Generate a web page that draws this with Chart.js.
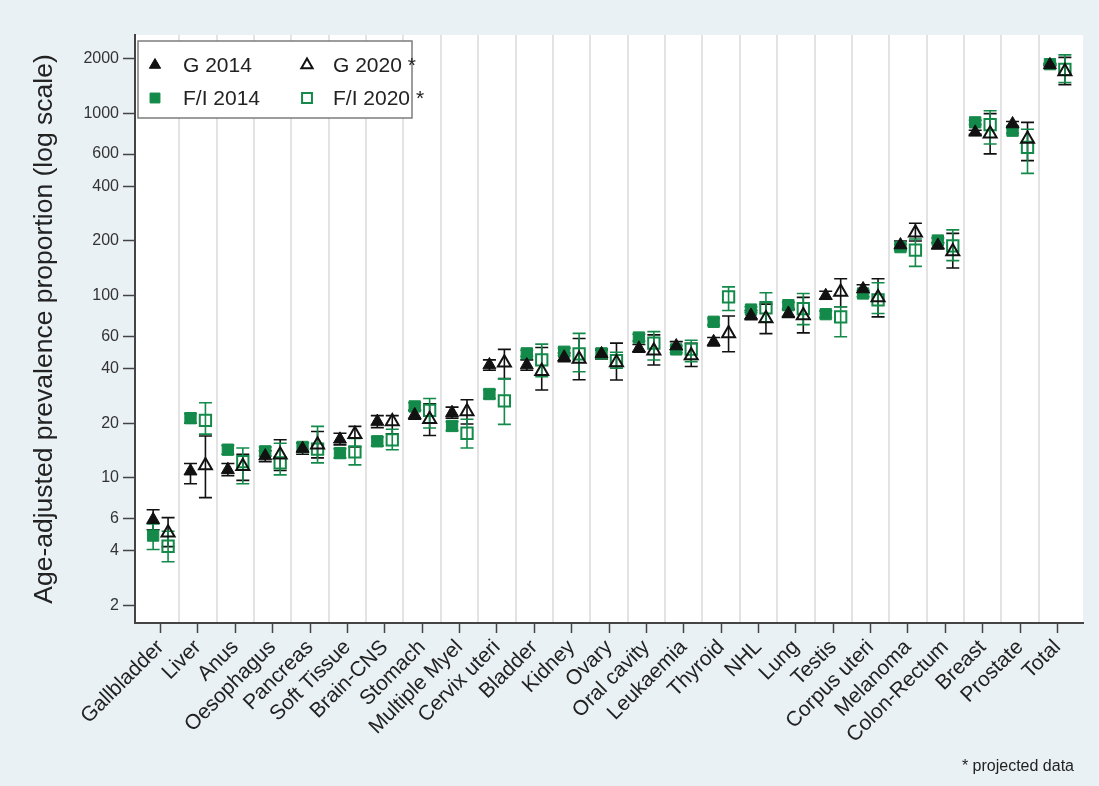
<!DOCTYPE html>
<html>
<head>
<meta charset="utf-8">
<script src="https://cdn.jsdelivr.net/npm/chart.js@4.4.0/dist/chart.umd.min.js"></script>
<style>
  html, body { margin: 0; padding: 0; background: #e9f1f4; }
  canvas { display: block; }
</style>
</head>
<body>
<canvas id="chart" width="1099" height="786"></canvas>
<script>
// Cancer sites, ordered by prevalence
const categories = ['Gallbladder', 'Liver', 'Anus', 'Oesophagus', 'Pancreas', 'Soft Tissue', 'Brain-CNS',
  'Stomach', 'Multiple Myel', 'Cervix uteri', 'Bladder', 'Kidney', 'Ovary', 'Oral cavity', 'Leukaemia',
  'Thyroid', 'NHL', 'Lung', 'Testis', 'Corpus uteri', 'Melanoma', 'Colon-Rectum', 'Breast', 'Prostate', 'Total'];

// Germany 2014 (observed)
const g2014     = [5.9, 10.9, 11.1, 13.2, 14.5, 16.3, 20.4, 22.2, 22.8, 41.7, 41.7, 46, 48, 51.5, 53, 55.9, 78, 80, 100, 109, 190, 189, 789, 877, 1850];
const g2014Low  = [5.2, 9.3, 10.3, 12.3, 13.5, 15.2, 18.9, 21.0, 21.3, 39.0, 39.0, 43.5, 45, 49, 50.5, 53, 74, 76, 96, 104, 180, 182, 770, 850, 1830];
const g2014High = [6.7, 12.0, 12.0, 14.1, 15.6, 17.6, 22.0, 23.5, 24.5, 44.5, 44.5, 48.5, 51, 54, 56, 59, 83, 84, 106, 115, 200, 196, 810, 905, 1870];

// France/Italy 2014 (observed)
const fi2014     = [4.83, 21.3, 14.3, 14.0, 14.8, 13.7, 15.9, 24.7, 19.3, 28.9, 48.3, 49.3, 48.3, 59, 50.8, 72, 84, 88.8, 79.3, 103, 185, 201, 895, 806, 1868];
const fi2014Low  = [4.05, 20.0, 13.5, 13.2, 14.0, 12.9, 15.0, 23.5, 18.2, 27.3, 46.5, 47.0, 46.5, 56.5, 48.7, 69, 81, 85.5, 76, 99, 178, 194, 870, 780, 1850];
const fi2014High = [5.6, 22.6, 15.1, 14.8, 15.6, 14.5, 16.8, 25.9, 20.4, 30.5, 50.2, 51.6, 50.2, 61.5, 53, 75, 87, 92, 82.6, 107, 192, 208, 920, 832, 1886];

// Germany 2020 (projected)
const g2020     = [5.0, 11.7, 11.6, 13.4, 15.2, 17.4, 20.4, 21.0, 23.2, 42.9, 38.5, 45, 43, 50, 47, 62, 75, 78, 105, 98, 222, 175, 775, 726, 1700];
const g2020Low  = [4.2, 7.8, 9.7, 11.0, 12.9, 14.8, 17.5, 17.1, 19.8, 35.1, 30.4, 34.6, 34.5, 41.7, 40.9, 49.3, 62, 62.6, 87, 76.6, 200, 142, 601, 552, 1443];
const g2020High = [6.06, 17.0, 13.5, 16.2, 18.0, 19.2, 22.0, 25.5, 26.9, 50.8, 52, 58.3, 55, 61, 54.8, 77.5, 90, 98, 124, 124, 250, 220, 1000, 895, 2035];

// France/Italy 2020 (projected)
const fi2020     = [4.22, 20.7, 12.3, 12.1, 14.4, 13.9, 16.2, 23.5, 17.6, 26.5, 44.5, 48, 44, 55, 51, 98.6, 86, 85, 76.6, 95, 178, 188, 870, 653, 1750];
const fi2020Low  = [3.47, 17.4, 9.3, 10.4, 12.1, 11.8, 14.3, 18.8, 14.6, 19.7, 36, 38.3, 40, 44.4, 43.5, 83, 72, 69.5, 59.6, 80, 145, 156, 681, 470, 1482];
const fi2020High = [5.1, 25.9, 14.6, 15.5, 19.2, 16.5, 18.5, 27.3, 21, 35, 54.3, 62.2, 49, 63.6, 57, 112, 104, 103, 87, 118, 205, 230, 1037, 820, 2100];

// Y axis tick labels
const yTicks = [2, 4, 6, 10, 20, 40, 60, 100, 200, 400, 600, 1000, 2000];

const FONT = '"Liberation Sans", Arial, Helvetica, sans-serif';
const GREEN = '#138a49';
const BLACK = '#111111';
const SHIFT = 0.2; // horizontal dodge between 2014 and 2020 markers

Chart.defaults.font.family = FONT;

function points(values, shift) {
  return values.map((v, i) => ({ x: i + shift, y: v }));
}

const datasets = [
  { label: 'G 2014', data: points(g2014, -SHIFT), errLow: g2014Low, errHigh: g2014High, errColor: BLACK,
    pointStyle: 'triangle', pointRadius: 7.5, backgroundColor: BLACK, borderColor: BLACK, borderWidth: 1 },
  { label: 'F/I 2014', data: points(fi2014, -SHIFT), errLow: fi2014Low, errHigh: fi2014High, errColor: GREEN,
    pointStyle: 'rect', pointRadius: 8, backgroundColor: GREEN, borderColor: GREEN, borderWidth: 1 },
  { label: 'G 2020 *', data: points(g2020, SHIFT), errLow: g2020Low, errHigh: g2020High, errColor: BLACK,
    pointStyle: 'triangle', pointRadius: 7.5, backgroundColor: 'rgba(0,0,0,0)', borderColor: BLACK, borderWidth: 2 },
  { label: 'F/I 2020 *', data: points(fi2020, SHIFT), errLow: fi2020Low, errHigh: fi2020High, errColor: GREEN,
    pointStyle: 'rect', pointRadius: 8, backgroundColor: 'rgba(0,0,0,0)', borderColor: GREEN, borderWidth: 2 }
].map(ds => Object.assign(ds, { pointHoverRadius: ds.pointRadius, showLine: false }));

// Canvas and plot-region backgrounds
const backdrop = {
  id: 'backdrop',
  beforeDraw(chart) {
    const { ctx, chartArea: a } = chart;
    ctx.save();
    ctx.fillStyle = '#e9f1f4';
    ctx.fillRect(0, 0, chart.width, chart.height);
    ctx.fillStyle = '#ffffff';
    ctx.fillRect(a.left, a.top, a.right - a.left, a.bottom - a.top);
    ctx.restore();
  }
};

// Capped vertical range bars for each point
const errorBars = {
  id: 'errorBars',
  beforeDatasetsDraw(chart) {
    const { ctx } = chart;
    const y = chart.scales.y;
    chart.data.datasets.forEach((ds, di) => {
      const meta = chart.getDatasetMeta(di);
      ctx.save();
      ctx.strokeStyle = ds.errColor;
      ctx.lineWidth = 1.6;
      meta.data.forEach((pt, i) => {
        const x = pt.x;
        const yl = y.getPixelForValue(ds.errLow[i]);
        const yh = y.getPixelForValue(ds.errHigh[i]);
        ctx.beginPath();
        ctx.moveTo(x, yl); ctx.lineTo(x, yh);
        ctx.moveTo(x - 6.5, yl); ctx.lineTo(x + 6.5, yl);
        ctx.moveTo(x - 6.5, yh); ctx.lineTo(x + 6.5, yh);
        ctx.stroke();
      });
      ctx.restore();
    });
  }
};

// Boxed two-column key in the upper-left of the plot, plus the footnote
const keyAndNote = {
  id: 'keyAndNote',
  afterDraw(chart) {
    const { ctx } = chart;
    const a = chart.chartArea;
    const box = { x: a.left + 3, y: a.top + 6, w: 274, h: 77 };
    ctx.save();
    ctx.fillStyle = '#ffffff';
    ctx.strokeStyle = '#7c7c7c';
    ctx.lineWidth = 1.5;
    ctx.fillRect(box.x, box.y, box.w, box.h);
    ctx.strokeRect(box.x, box.y, box.w, box.h);

    // column/row layout of the key entries: [dataset index, column, row]
    const layout = [[0, 0, 0], [2, 1, 0], [1, 0, 1], [3, 1, 1]];
    const colMarker = [box.x + 17, box.x + 169];
    const colText = [box.x + 45, box.x + 195];
    const rowY = [box.y + 24, box.y + 57];
    ctx.font = '21px ' + FONT;
    ctx.textBaseline = 'middle';
    ctx.textAlign = 'left';
    layout.forEach(([di, c, r]) => {
      const ds = chart.data.datasets[di];
      ctx.fillStyle = ds.backgroundColor;
      ctx.strokeStyle = ds.borderColor;
      ctx.lineWidth = ds.borderWidth;
      Chart.helpers.drawPoint(ctx, { pointStyle: ds.pointStyle, radius: ds.pointRadius - 1, rotation: 0, borderWidth: ds.borderWidth },
        colMarker[c], rowY[r]);
      ctx.fillStyle = '#222222';
      ctx.fillText(ds.label, colText[c], rowY[r] + 1);
    });

    ctx.font = '16px ' + FONT;
    ctx.fillStyle = '#222222';
    ctx.textAlign = 'right';
    ctx.fillText('* projected data', 1074, 767);
    ctx.restore();
  }
};

new Chart(document.getElementById('chart'), {
  type: 'scatter',
  data: { datasets },
  plugins: [backdrop, errorBars, keyAndNote],
  options: {
    responsive: false,
    animation: false,
    devicePixelRatio: 1,
    layout: { padding: { left: 0, right: 16, top: 35, bottom: 0 } },
    plugins: { legend: { display: false }, tooltip: { enabled: false } },
    scales: {
      x: {
        type: 'linear',
        position: 'bottom',
        min: -0.685,
        max: 24.685,
        afterBuildTicks: s => { s.ticks = categories.map((_, i) => ({ value: i })); },
        afterFit: s => { s.height = 163; },
        grid: { drawOnChartArea: false, drawTicks: true, tickLength: 10, tickColor: '#444', tickWidth: 1.5 },
        border: { display: true, color: '#444', width: 2 },
        ticks: {
          autoSkip: false, minRotation: 45, maxRotation: 45, padding: 2,
          font: { size: 21 }, color: '#222',
          callback: v => categories[v]
        }
      },
      xGrid: {
        type: 'linear',
        position: 'bottom',
        min: -0.685,
        max: 24.685,
        afterBuildTicks: s => { s.ticks = categories.slice(1).map((_, i) => ({ value: i + 0.5 })); },
        afterFit: s => { s.height = 0; },
        grid: { drawOnChartArea: true, drawTicks: false, color: '#e3e3e3', lineWidth: 2 },
        border: { display: false },
        ticks: { display: false }
      },
      y: {
        type: 'logarithmic',
        position: 'left',
        min: 1.6,
        max: 2700,
        afterBuildTicks: s => { s.ticks = yTicks.map(v => ({ value: v })); },
        afterFit: s => { s.width = 135; },
        grid: { drawOnChartArea: false, tickLength: 12, tickColor: '#444', tickWidth: 1.5 },
        border: { display: true, color: '#444', width: 2 },
        ticks: { font: { size: 16 }, color: '#333', padding: 4, callback: v => String(v) },
        title: {
          display: true,
          text: 'Age-adjusted prevalence proportion (log scale)',
          font: { size: 26.5 }, color: '#222',
          padding: { top: 29, bottom: 0 }
        }
      }
    }
  }
});
</script>
</body>
</html>
